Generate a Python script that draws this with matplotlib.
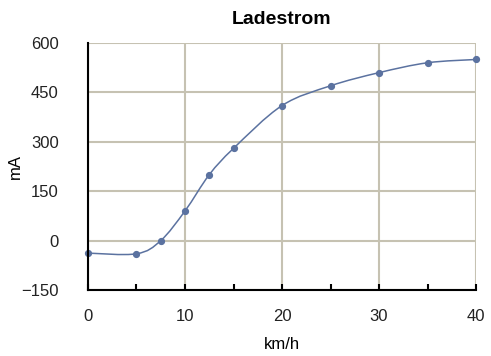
import numpy as np
import matplotlib
matplotlib.use("Agg")
import matplotlib.pyplot as plt
from matplotlib.path import Path
from matplotlib.patches import PathPatch

speed = [0, 5, 7.5, 10, 12.5, 15, 20, 25, 30, 35, 40]
current = [-38, -40, 0, 90, 200, 280, 410, 470, 510, 540, 550]

line_color = '#5b72a0'
grid_color = '#c6c2b2'

plt.rcParams['font.family'] = ['Liberation Sans', 'DejaVu Sans']

fig = plt.figure(figsize=(4.91, 3.56), dpi=100)
ax = fig.add_axes([0.1792, 0.1854, 0.7903, 0.6938])

# smooth line through the points (Catmull-Rom as cubic Bezier segments)
pts = np.column_stack([speed, current]).astype(float)
verts = [tuple(pts[0])]
codes = [Path.MOVETO]
n = len(pts)
for i in range(n - 1):
    p0 = pts[max(i - 1, 0)]
    p1 = pts[i]
    p2 = pts[i + 1]
    p3 = pts[min(i + 2, n - 1)]
    c1 = p1 + (p2 - p0) / 6.0
    c2 = p2 - (p3 - p1) / 6.0
    verts += [tuple(c1), tuple(c2), tuple(p2)]
    codes += [Path.CURVE4] * 3
ax.add_patch(PathPatch(Path(verts, codes), facecolor='none', edgecolor=line_color,
                       linewidth=1.1, zorder=3, clip_on=False))
ax.plot(speed, current, linestyle='none', marker='o', markersize=4.2,
        color=line_color, zorder=4, clip_on=False)

ax.set_xlim(0, 40)
ax.set_ylim(-150, 600)
ax.set_xticks([0, 10, 20, 30, 40])
ax.set_xticks([5, 15, 25, 35], minor=True)
ax.set_yticks([-150, 0, 150, 300, 450, 600])

ax.grid(True, which='major', color=grid_color, linewidth=1.5, zorder=1)
for s in ['top', 'right']:
    ax.spines[s].set_visible(False)
ax.spines['left'].set_linewidth(1.5)
ax.spines['bottom'].set_linewidth(1.5)
ax.spines['left'].set_zorder(5)
ax.spines['bottom'].set_zorder(5)

ax.tick_params(axis='x', which='both', direction='in', length=4, width=1.5,
               pad=14, labelsize=12, colors='black')
ax.tick_params(axis='y', length=0, pad=21, labelsize=12)
for lbl in ax.get_xticklabels() + ax.get_yticklabels():
    lbl.set_color('#222222')

ax.set_title('Ladestrom', fontsize=14, fontweight='bold', pad=14)
ax.set_xlabel('km/h', fontsize=12, labelpad=9)
ax.set_ylabel('mA', fontsize=12, va='center')
ax.yaxis.set_label_coords(-0.188, 0.5)

fig.savefig('out.png', dpi=100)
